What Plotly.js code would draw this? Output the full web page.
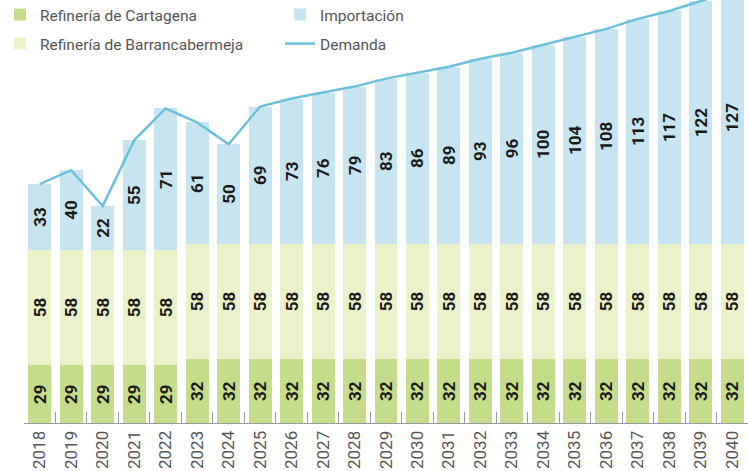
<!DOCTYPE html>
<html>
<head>
<meta charset="utf-8">
<script src="https://cdn.plot.ly/plotly-3.0.1.min.js"></script>
<style>html,body{margin:0;padding:0;background:#fff;}#chart{width:748px;height:471px;}</style>
</head>
<body>
<div id="chart"></div>
<script>
const years = ["2018","2019","2020","2021","2022","2023","2024","2025","2026","2027","2028","2029","2030","2031","2032","2033","2034","2035","2036","2037","2038","2039","2040"];
const cartagena = [29,29,29,29,29,32,32,32,32,32,32,32,32,32,32,32,32,32,32,32,32,32,32];
const barrancabermeja = [58,58,58,58,58,58,58,58,58,58,58,58,58,58,58,58,58,58,58,58,58,58,58];
const importacion = [33,40,22,55,71,61,50,69,73,76,79,83,86,89,93,96,100,104,108,113,117,122,127];
const demanda = [120,127,109,142,158,151,140,159,163,166,169,173,176,179,183,186,190,194,198,203,207,212,217];

const FONT = "Roboto, 'DejaVu Sans', sans-serif";
const labelFont = {family: FONT, size: 17, color: '#1a1a1a', weight: 'bold'};

function barTrace(name, vals, color, lg) {
  return {
    type: 'bar', name: name, x: years, y: vals,
    marker: {color: color, line: {width: 0}},
    text: vals.map(String), textposition: 'inside', textangle: -90,
    insidetextanchor: 'middle', constraintext: 'none',
    textfont: labelFont, insidetextfont: labelFont,
    legend: lg, hoverinfo: 'skip'
  };
}

const data = [
  barTrace('Refinería de Cartagena', cartagena, '#c5dc8b', 'legend'),
  barTrace('Refinería de Barrancabermeja', barrancabermeja, '#ebf1c8', 'legend2'),
  barTrace('Importación', importacion, '#c7e5f1', 'legend'),
  {type: 'scatter', mode: 'lines', name: 'Demanda', x: years, y: demanda,
   line: {color: '#6cc0dc', width: 2.5}, legend: 'legend2', hoverinfo: 'skip', cliponaxis: true}
];

function legendRow(yMidPx) {
  return {
    orientation: 'h', xref: 'container', yref: 'container',
    x: 0, y: 1 - yMidPx/471, xanchor: 'left', yanchor: 'middle',
    bgcolor: 'rgba(0,0,0,0)', entrywidth: 235, entrywidthmode: 'pixels',
    font: {family: FONT, size: 15.5, color: '#555555'},
    traceorder: 'normal'
  };
}

const layout = {
  width: 748, height: 471,
  margin: {l: 24, r: 0, t: 0, b: 48, autoexpand: false},
  paper_bgcolor: '#ffffff', plot_bgcolor: '#ffffff',
  barmode: 'stack', bargap: 0.27,
  showlegend: true,
  legend: legendRow(15),
  legend2: legendRow(44),
  xaxis: {
    type: 'category', range: [-0.5, 22.5],
    showline: true, linecolor: '#9a9a9a', linewidth: 1,
    ticks: 'inside', tickson: 'boundaries', ticklen: 11, tickcolor: '#9a9a9a', tickwidth: 1,
    tickangle: -90, tickfont: {family: FONT, size: 17, color: '#555555'},
    showgrid: false, zeroline: false, fixedrange: true
  },
  yaxis: {
    range: [0, 212.5], visible: false, showgrid: false, zeroline: false, fixedrange: true
  },
  hovermode: false
};

Plotly.newPlot('chart', data, layout, {staticPlot: true, displayModeBar: false});
</script>
</body>
</html>
